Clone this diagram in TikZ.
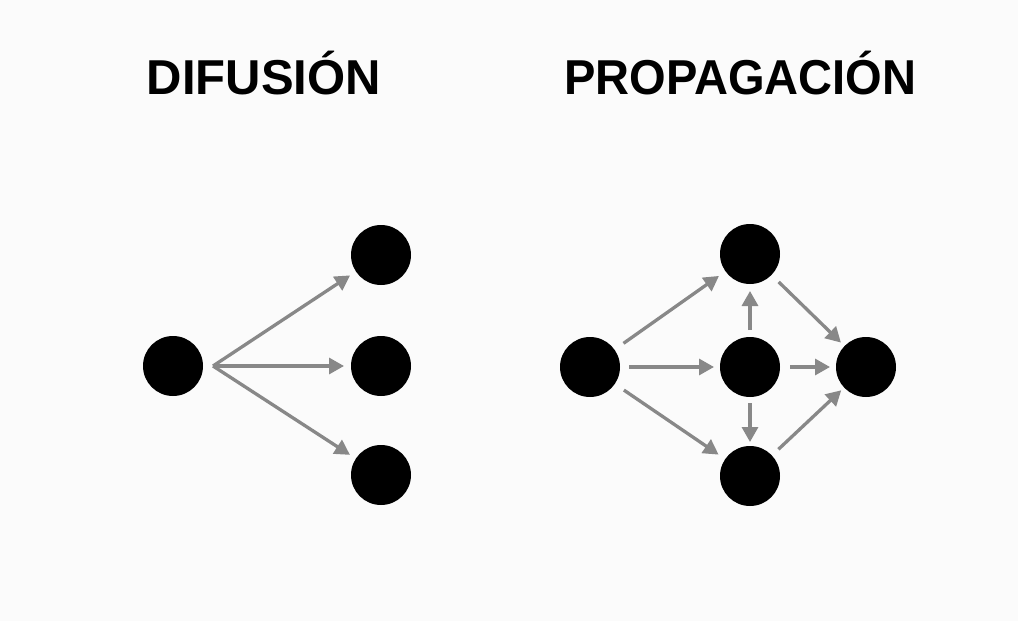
\documentclass[tikz,border=0pt]{standalone}
\usepackage{fontspec}
\setmainfont{Liberation Sans}
\usetikzlibrary{arrows.meta}
\definecolor{arrowgray}{HTML}{888888}
\definecolor{bggray}{HTML}{FBFBFB}
\tikzset{
  dot/.style={circle, fill=black, minimum size=60pt, inner sep=0pt, outer sep=0pt},
  link/.style={draw=arrowgray, line width=3.3pt, -{Triangle[length=15pt,width=16pt]}, shorten <=9pt, shorten >=6pt},
  hublink/.style={draw=arrowgray, line width=3.3pt, -{Triangle[length=15pt,width=16pt]}, shorten >=7pt},
  title/.style={inner sep=0pt, anchor=base, font=\bfseries\fontsize{49}{49}\selectfont}
}
\begin{document}
\begin{tikzpicture}[x=1pt,y=-1pt]
\fill[bggray] (0,0) rectangle (1018,621);
\useasboundingbox (0,0) rectangle (1018,621);
% titles
\node[title] (t1) at (264,94) {DIFUSIÓN};
\node[title, xscale=0.96] (t2) at (740.5,94) {PROPAGACIÓN};
% left diagram
\node[dot] (s) at (173,366) {};
\node[dot] (a) at (381,255) {};
\node[dot] (b) at (381,366) {};
\node[dot] (c) at (381,475) {};
\coordinate (hub) at (213,366);
\draw[hublink] (hub) -- (a);
\draw[hublink] (hub) -- (b);
\draw[hublink] (hub) -- (c);
% right diagram
\node[dot] (L) at (590,367) {};
\node[dot] (T) at (750,254) {};
\node[dot] (M) at (750,367) {};
\node[dot] (B) at (750,476) {};
\node[dot] (R) at (866,367) {};
\draw[link, shorten <=11pt, shorten >=8pt] (L) -- (T);
\draw[link] (L) -- (M);
\draw[link, shorten <=11pt, shorten >=8pt] (L) -- (B);
\draw[link, shorten <=7pt, shorten >=7pt] (M) -- (T);
\draw[link, shorten <=6pt, shorten >=4pt] (M) -- (B);
\draw[link, shorten <=10pt] (M) -- (R);
\draw[link, shorten <=10pt, shorten >=5pt] (T) -- (R);
\draw[link, shorten <=9pt, shorten >=4pt] (B) -- (R);
\end{tikzpicture}
\end{document}
